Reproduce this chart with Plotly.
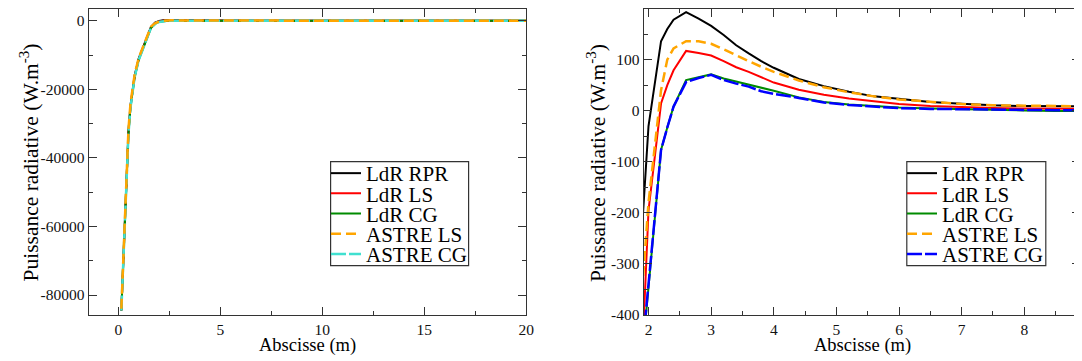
import plotly.graph_objects as go

# ---------------- data ----------------
X = [0.15, 0.3, 0.4, 0.5, 0.6, 0.8, 1.0, 1.2, 1.4, 1.6, 1.8,
     1.9, 2.0, 2.2, 2.3, 2.4, 2.6, 2.8, 3.0, 3.2, 3.4, 3.6, 3.8, 4.0, 4.4,
     4.8, 5.2, 5.6, 6.0, 6.5, 7.0, 7.5, 8.0, 8.5, 9.0,
     10, 12, 14, 16, 18, 20]

LDR_RPR = [-84500, -60000, -44500, -32000, -24500, -16000, -11000, -8000, -4800, -1800, -500,
           -225, -30, 136, 160, 178, 193, 180, 166, 148, 128, 112, 97, 84, 62,
           48, 37, 28, 22.5, 17, 13.5, 10.5, 9, 8, 7,
           5, 3, 2, 1.5, 1, 1]
LDR_LS = [-84500, -60500, -45000, -32500, -25000, -16300, -11200, -8200, -5000, -1950, -750,
          -480, -195, 14, 50, 79, 117, 113, 108, 97, 85, 76, 65, 55, 41,
          31, 24, 18, 13, 9, 6.5, 5, 4, 3.5, 3,
          2, 1, 0.5, 0.3, 0.2, 0.2]
LDR_CG = [-84500, -60800, -45300, -32800, -25200, -16500, -11400, -8400, -5200, -2100, -950,
          -480, -346, -77, -33, 8, 60, 66, 71, 63, 57, 52, 45, 39, 26,
          17, 12, 8.5, 6, 4, 2.5, 1.5, 0.5, -0.5, -1,
          -1, -1, -0.5, -0.5, -0.3, -0.2]
ASTRE_LS = [-84000, -59500, -44000, -31500, -24000, -15700, -10800, -7800, -4600, -1700, -700,
            -350, -180, 40, 100, 122, 136, 136, 131, 120, 108, 97, 86, 76, 59,
            46, 36, 28, 22, 17, 13, 10.5, 9, 8, 7.5,
            5, 3, 2, 1.5, 1, 1]
ASTRE_CG = [-84500, -60800, -45300, -32800, -25200, -16500, -11400, -8400, -5200, -2100, -950,
            -470, -340, -77, -33, 8, 56, 64, 70, 60, 53, 47, 38, 33, 25,
            16, 11, 8, 5, 3.5, 2.5, 2, 1.5, 1, 1,
            0.5, 0.3, 0.2, 0.1, 0.1, 0.1]

NAMES = ["LdR RPR", "LdR LS", "LdR CG", "ASTRE LS", "ASTRE CG"]

LEFT_X_TICKS = [0, 5, 10, 15, 20]
LEFT_Y_TICKS = [0, -20000, -40000, -60000, -80000]
LEFT_Y_LABELS = ["0", "-20000", "-40000", "-60000", "-80000"]
RIGHT_X_TICKS = [2, 3, 4, 5, 6, 7, 8]
RIGHT_Y_TICKS = [200, 100, 0, -100, -200, -300, -400]
RIGHT_Y_LABELS = ["200", "100", "0", "-100", "-200", "-300", "-400"]

Y_TITLE = "Puissance radiative (W.m<sup>-3</sup>)"
X_TITLE = "Abscisse (m)"

# ---------------- layout helpers ----------------
OFF = 8                      # page body margin of the html page
W, H = 1082 - OFF, 361 - OFF
FONT = "Liberation Serif, Times New Roman, Times, serif"
AXCOL = "#333333"


def px(x):
    return min(1.0, max(0.0, (x - OFF) / W))


def py(y):
    return min(1.0, max(0.0, 1 - (y - OFF) / H))


SERIES = [LDR_RPR, LDR_LS, LDR_CG, ASTRE_LS, ASTRE_CG]
STYLE_LEFT = [
    dict(color="#000000", width=2, dash="solid"),
    dict(color="#ff0000", width=2, dash="solid"),
    dict(color="#008b00", width=2, dash="solid"),
    dict(color="#ffa500", width=2.5, dash="10px,5px"),
    dict(color="#40e0d0", width=2.5, dash="15px,3px"),
]
STYLE_RIGHT = [
    dict(color="#000000", width=2, dash="solid"),
    dict(color="#ff0000", width=2, dash="solid"),
    dict(color="#008b00", width=2, dash="solid"),
    dict(color="#ffa500", width=2.5, dash="10px,5px"),
    dict(color="#0000ff", width=2.5, dash="15px,3px"),
]

fig = go.Figure()

LEFT_ORDER = [0, 1, 2, 4, 3]
RIGHT_ORDER = [0, 1, 2, 3, 4]

for i in LEFT_ORDER:
    fig.add_trace(go.Scatter(x=X, y=SERIES[i], mode="lines", name=NAMES[i],
                             line=STYLE_LEFT[i], xaxis="x", yaxis="y",
                             legend="legend" if i == 0 else f"legend{i + 1}",
                             hoverinfo="skip"))
for i in RIGHT_ORDER:
    fig.add_trace(go.Scatter(x=X, y=SERIES[i], mode="lines", name=NAMES[i],
                             line=STYLE_RIGHT[i], xaxis="x2", yaxis="y2",
                             legend=f"legend{i + 6}", hoverinfo="skip"))

ROWS = [173.5, 193.7, 213.9, 234.1, 254.3]
legends = {}
for k in range(10):
    key = "legend" if k == 0 else f"legend{k + 1}"
    left_px = 326 if k < 5 else 902
    legends[key] = dict(
        x=px(left_px), y=py(ROWS[k % 5]), xanchor="left", yanchor="middle",
        xref="paper", yref="paper", bgcolor="rgba(0,0,0,0)", borderwidth=0,
        font=dict(family=FONT, size=21, color="#000000"),
    )

tickfont = dict(family=FONT, size=15.5, color="#111111")


def axis(domain, rng, tickvals, ticktext, minor_dtick, anchor):
    return dict(
        domain=domain, range=rng, anchor=anchor,
        tickmode="array", tickvals=tickvals, ticktext=ticktext,
        ticks="inside", ticklen=8, tickwidth=1, tickcolor=AXCOL,
        minor=dict(ticks="inside", ticklen=4.5, tickwidth=1, tickcolor=AXCOL,
                   tickmode="linear", tick0=0, dtick=minor_dtick),
        showline=True, linecolor=AXCOL, linewidth=1, mirror="allticks",
        showgrid=False, zeroline=False, tickfont=tickfont, automargin=False,
        fixedrange=True,
    )


ydom = [py(315), py(8.5)]
fig.update_layout(
    width=W, height=H,
    margin=dict(l=0, r=0, t=0, b=0),
    paper_bgcolor="white", plot_bgcolor="white",
    font=dict(family=FONT, color="#000000"),
    xaxis=axis([px(88.5), px(526.3)], [-1.46, 20], LEFT_X_TICKS,
               [str(v) for v in LEFT_X_TICKS], 2.5, "y"),
    yaxis=axis(ydom, [-85830, 3600], LEFT_Y_TICKS, LEFT_Y_LABELS, 10000, "x"),
    xaxis2=axis([px(643.5), px(1080)], [1.92, 8.89], RIGHT_X_TICKS,
                [str(v) for v in RIGHT_X_TICKS], 0.5, "y2"),
    yaxis2=axis(ydom, [-400, 200], RIGHT_Y_TICKS, RIGHT_Y_LABELS, 50, "x2"),
    showlegend=True,
    **legends,
)

# legend frames
for (x0, x1) in [(330.6, 468.6), (906.8, 1045.8)]:
    fig.add_shape(type="rect", xref="paper", yref="paper",
                  x0=px(x0), x1=px(x1), y0=py(265.7), y1=py(161.7),
                  line=dict(color=AXCOL, width=1.2), fillcolor="rgba(0,0,0,0)",
                  layer="above")

# axis titles
for xc in [28.5, 596]:
    fig.add_annotation(text=Y_TITLE, x=px(xc), y=py(163), xref="paper", yref="paper",
                       textangle=-90, showarrow=False, xanchor="center", yanchor="middle",
                       font=dict(family=FONT, size=21.5, color="#000000"))
for xc in [307.5, 862]:
    fig.add_annotation(text=X_TITLE, x=px(xc), y=py(345), xref="paper", yref="paper",
                       showarrow=False, xanchor="center", yanchor="middle",
                       font=dict(family=FONT, size=18.5, color="#000000"))

fig.write_html("out.html")
